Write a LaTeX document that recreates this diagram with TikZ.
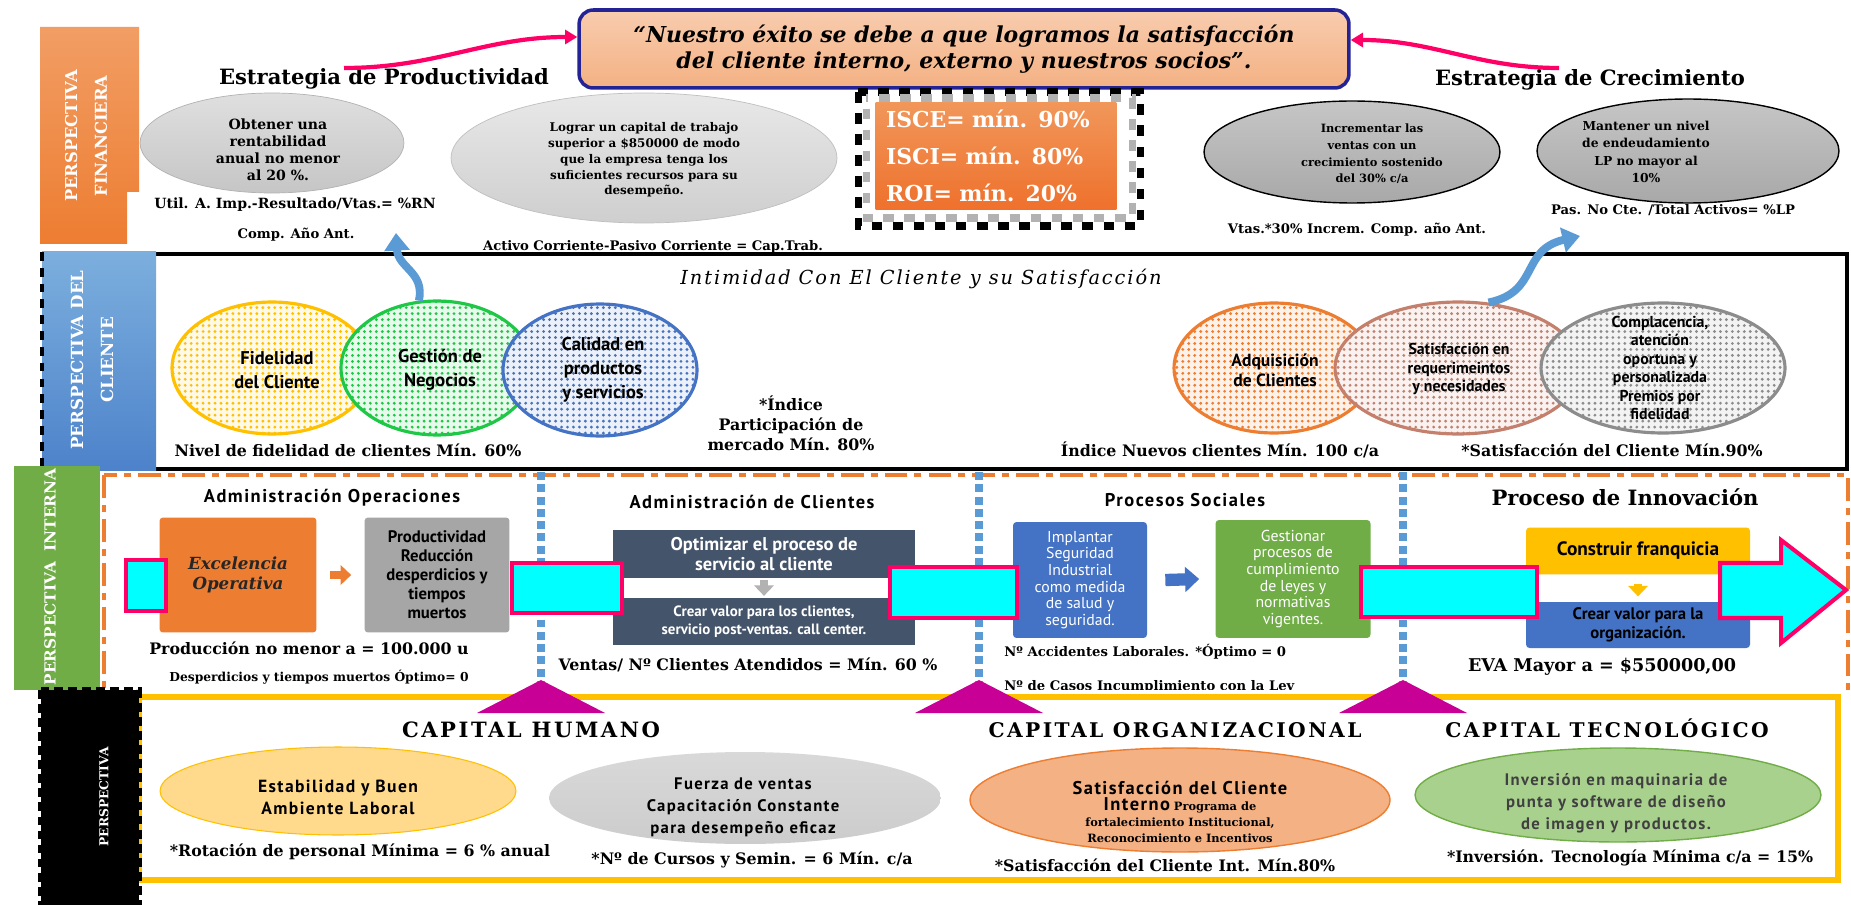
\documentclass[tikz,border=0pt]{standalone}
\usepackage{fontspec}
\setmainfont{DejaVu Serif}
\newfontfamily\sansf{PT Sans}
\newfontfamily\sanssp[LetterSpace=8]{PT Sans}
\newfontfamily\capf[LetterSpace=12]{DejaVu Serif}
\newfontfamily\scrf[LetterSpace=10]{DejaVu Serif}
\usetikzlibrary{shapes.geometric,arrows.meta,patterns.meta}

\definecolor{naranja}{RGB}{237,125,49}
\definecolor{salmon}{RGB}{244,177,131}
\definecolor{azulcl}{RGB}{91,155,213}
\definecolor{azul}{RGB}{68,114,196}
\definecolor{verde}{RGB}{112,173,71}
\definecolor{verdecl}{RGB}{169,209,142}
\definecolor{verdevivo}{RGB}{30,200,70}
\definecolor{oro}{RGB}{255,192,0}
\definecolor{crema}{RGB}{255,217,140}
\definecolor{pizarra}{RGB}{68,84,106}
\definecolor{rosa}{RGB}{255,0,102}
\definecolor{fucsia}{RGB}{200,0,150}
\definecolor{cian}{RGB}{0,255,255}
\definecolor{marino}{RGB}{35,35,150}
\definecolor{teja}{RGB}{196,128,108}
\definecolor{gris}{RGB}{140,140,140}

\begin{document}
\begin{tikzpicture}[x=0.02cm, y=-0.02cm,
	every node/.style={align=center, inner sep=0pt},
	nota/.style={font=\bfseries\fontsize{7.5}{9}\selectfont},
	notag/.style={font=\bfseries\fontsize{9}{11.5}\selectfont},
	etiq/.style={rotate=90, text=white, font=\bfseries\fontsize{9.5}{17}\selectfont},
	circ/.style={ellipse, draw=#1, line width=1.8pt, preaction={fill=#1!10}, pattern={Dots[radius=0.9pt,distance=3.4pt]}, pattern color=#1},
	ctxt/.style={font=\sansf\bfseries\fontsize{10.5}{13.5}\selectfont},
	ctxtp/.style={font=\sansf\bfseries\fontsize{9}{10.5}\selectfont},
	caja/.style={rectangle, fill=#1, rounded corners=2pt},
	titulo/.style={font=\sanssp\bfseries\fontsize{10.5}{12}\selectfont},
	capt/.style={font=\capf\bfseries\fontsize{11.5}{13}\selectfont},
	bel/.style={font=\sanssp\bfseries\fontsize{10}{12.5}\selectfont},
	cajacian/.style={fill=cian, draw=rosa, line width=2.3pt},
	flechaA/.style={rosa, line width=2.4pt, -{Triangle[width=8pt,length=7pt]}},
	flechaB/.style={azulcl, line width=4.5pt, -{Triangle[width=14pt,length=10pt]}},
	bloque/.style={#1, line width=5pt, -{Triangle[width=11pt,length=6pt]}}]

	\useasboundingbox (0,0) rectangle (1851,905);
	\fill[white] (0,0) rectangle (1851,905);

	% cliente
	\draw[line width=2.8pt] (150,254) rectangle (1847,469);

	% procesos internos
	\draw[naranja, line width=2.2pt, dash pattern=on 13pt off 4pt on 4pt off 4pt] (104,475) rectangle (1848,692);
	\foreach \tx in {541,979,1403}
		\draw[azulcl, line width=4.5pt, dash pattern=on 4.5pt off 2.5pt] (\tx,472) -- (\tx,684);

	\node[titulo] (t1) at (332,498) {Administración Operaciones};
	\node[titulo] (t2) at (752,502) {Administración de Clientes};
	\node[titulo] (t3) at (1185,500) {Procesos Sociales};
	\node[font=\bfseries\fontsize{12}{14}\selectfont] (t4) at (1625,497) {Proceso de Innovación};

	\node[caja=naranja, minimum width=3.14cm, minimum height=2.3cm, text=black!85, font=\bfseries\itshape\fontsize{9.5}{11}\selectfont] (exc) at (238,575) {Excelencia\\Operativa};
	\node[caja=gray!70, minimum width=2.9cm, minimum height=2.3cm, font=\sansf\bfseries\fontsize{9.5}{10.8}\selectfont] (prod) at (437,575) {Productividad\\Reducción\\desperdicios y\\tiempos\\muertos};
	\draw[bloque=naranja] ([xshift=0.26cm]exc.east) -- ([xshift=-0.26cm]prod.west);

	\node[fill=pizarra, minimum width=6.04cm, minimum height=0.96cm, text=white, font=\sansf\bfseries\fontsize{10.5}{11.5}\selectfont] (opt) at (764,554) {Optimizar el proceso de\\servicio al cliente};
	\node[fill=pizarra, minimum width=6.04cm, minimum height=0.94cm, text=white, font=\sansf\bfseries\fontsize{8.5}{10}\selectfont] (crear) at (764,621.5) {Crear valor para los clientes,\\servicio post-ventas. call center.};
	\fill[pizarra] (opt.south west) rectangle (crear.north east);
	\fill[white] (622,578) rectangle (888,598);
	\draw[bloque=gray!60, shorten <=1pt, shorten >=1pt] (opt.south) -- (crear.north);

	\node[caja=azul, minimum width=2.68cm, minimum height=2.32cm, text=white, font=\sansf\fontsize{9}{9.5}\selectfont] (seg) at (1080,580) {Implantar\\Seguridad\\Industrial\\como medida\\de salud y\\seguridad.};
	\node[caja=verde, minimum width=3.1cm, minimum height=2.36cm, text=white, font=\sansf\fontsize{9}{9.5}\selectfont] (ley) at (1293,579) {Gestionar\\procesos de\\cumplimiento\\de leyes y\\normativas\\vigentes.};
	\draw[bloque=azul, line width=7pt, -{Triangle[width=14pt,length=8pt]}] ([xshift=0.36cm]seg.east) -- ([xshift=-0.32cm]ley.west);

	\node[caja=oro, minimum width=4.48cm, minimum height=0.94cm, font=\sansf\bfseries\fontsize{11}{12}\selectfont] (fran) at (1638,551) {Construir franquicia};
	\node[caja=azul, minimum width=4.48cm, minimum height=0.92cm, font=\sansf\bfseries\fontsize{9.5}{11}\selectfont] (org) at (1638,625) {Crear valor para la\\organización.};
	\draw[bloque=oro, shorten <=5pt, shorten >=3pt] (fran.south) -- (org.north);

	\draw[cajacian] (126,560) rectangle (166,611);
	\draw[cajacian] (512,563) rectangle (622,613);
	\draw[cajacian] (890,567) rectangle (1017,618);
	\draw[cajacian] (1361,567) rectangle (1537,617);
	\draw[cajacian] (1720,563) -- (1781,563) -- (1781,540) -- (1846,590) -- (1781,643) -- (1781,618) -- (1720,618) -- cycle;

	\node[notag] (n1) at (309,648) {Producción no menor a = 100.000 u};
	\node[font=\bfseries\fontsize{7}{9}\selectfont] (n2) at (319,677) {Desperdicios y tiempos muertos Óptimo= 0};
	\node[notag] (n3) at (748,665) {Ventas/ Nº Clientes Atendidos = Mín. 60 \%};
	\node[nota, anchor=west] (n4) at (1004,652) {Nº Accidentes Laborales. *Óptimo = 0};
	\node[nota, anchor=west] (n5) at (1004,687) {Nº de Casos Incumplimiento con la Ley};
	\node[font=\bfseries\fontsize{10}{12}\selectfont] (n6) at (1602,667) {EVA Mayor a = \$550000,00};

	% aprendizaje
	\fill[white] (139,690) rectangle (1851,905);
	\draw[oro, line width=3pt] (139,697) rectangle (1838,880);
	\foreach \tx in {541,979,1403}
		\fill[fucsia] (\tx-64,713) -- (\tx,680) -- (\tx+64,713) -- cycle;

	\node[capt, font=\capf\bfseries\fontsize{12}{13}\selectfont] (ch) at (531,730) {CAPITAL HUMANO};
	\node[capt] (co) at (1175,730) {CAPITAL ORGANIZACIONAL};
	\node[capt] (ct) at (1607,728) {CAPITAL TECNOLÓGICO};

	\node[ellipse, minimum width=7.12cm, minimum height=1.76cm, fill=crema, draw=oro, line width=0.6pt] (estab) at (338,791) {};
	\node[bel] (estabt) at (338,797) {Estabilidad y Buen\\Ambiente Laboral};
	\node[ellipse, minimum width=7.84cm, minimum height=1.84cm, top color=gray!30, bottom color=gray!40] (fuerza) at (745,798) {};
	\node[bel, font=\sanssp\bfseries\fontsize{9.5}{12.5}\selectfont] (fuerzat) at (743,807) {Fuerza de ventas\\Capacitación Constante\\para desempeño eficaz};
	\node[ellipse, minimum width=8.4cm, minimum height=2.08cm, fill=salmon, draw=naranja, line width=0.8pt] (satint) at (1180,800) {};
	\node[font=\bfseries\fontsize{6.5}{9}\selectfont] (satintt) at (1180,812) {{\sanssp\fontsize{10.5}{12}\selectfont Satisfacción del Cliente}\\{\sanssp\fontsize{10.5}{12}\selectfont Interno} Programa de\\fortalecimiento Institucional,\\Reconocimiento e Incentivos};
	\node[ellipse, minimum width=8.12cm, minimum height=1.88cm, fill=verdecl, draw=verde, line width=0.8pt] (inver) at (1618,795) {};
	\node[bel, font=\sanssp\bfseries\fontsize{9.5}{12.5}\selectfont, text=black!75] (invert) at (1616,803) {Inversión en maquinaria de\\punta y software de diseño\\de imagen y productos.};

	\node[notag] (b1) at (360,852) {*Rotación de personal Mínima = 6 \% anual};
	\node[notag] (b2) at (752,860) {*Nº de Cursos y Semin. = 6 Mín. c/a};
	\node[notag] (b3) at (1165,865) {*Satisfacción del Cliente Int. Mín.80\%};
	\node[font=\bfseries\fontsize{9}{11}\selectfont] (b4) at (1630,858) {*Inversión. Tecnología Mínima c/a = 15\%};

	% cliente: circulos
	\node[font=\scrf\itshape\fontsize{11}{13}\selectfont] (intim) at (921,279) {Intimidad Con El Cliente y su Satisfacción};
	\node[circ=oro, minimum width=4cm, minimum height=2.64cm] (fid) at (272,368) {};
	\node[circ=verdevivo, minimum width=3.84cm, minimum height=2.68cm] (ges) at (437,368) {};
	\node[circ=azul, minimum width=3.88cm, minimum height=2.64cm] (cal) at (600,370) {};
	\node[ctxt] (fidt) at (277,370) {Fidelidad\\del Cliente};
	\node[ctxt] (gest) at (440,370) {Gestión de\\Negocios};
	\node[ctxt] (calt) at (603,370) {Calidad en\\productos\\y servicios};

	\node[circ=naranja, minimum width=4cm, minimum height=2.6cm] (adq) at (1274,368) {};
	\node[circ=teja, minimum width=4.92cm, minimum height=2.64cm] (sat) at (1458,368) {};
	\node[circ=gris, minimum width=4.88cm, minimum height=2.6cm] (comp) at (1663,368) {};
	\node[ctxtp, font=\sansf\bfseries\fontsize{10}{11.5}\selectfont] (adqt) at (1275,370) {Adquisición\\de Clientes};
	\node[ctxtp] (satt) at (1459,369) {Satisfacción en\\requerimeintos\\y necesidades};
	\node[ctxtp] (compt) at (1660,368) {Complacencia,\\atención\\oportuna y\\personalizada\\Premios por\\fidelidad};

	\node[notag] (c1) at (348,450) {Nivel de fidelidad de clientes Mín. 60\%};
	\node[notag] (c2) at (791,423) {*Índice\\Participación de\\mercado Mín. 80\%};
	\node[notag] (c3) at (1220,450) {Índice Nuevos clientes Mín. 100 c/a};
	\node[notag] (c4) at (1612,450) {*Satisfacción del Cliente Mín.90\%};

	% financiera
	\node[rounded corners=8pt, minimum width=15.4cm, minimum height=1.56cm, top color=salmon!65, bottom color=salmon, draw=marino, line width=2pt, font=\bfseries\itshape\fontsize{12.5}{14.7}\selectfont] (quote) at (964,49) {“Nuestro éxito se debe a que logramos la satisfacción\\del cliente interno, externo y nuestros socios”.};

	\node[font=\bfseries\fontsize{12}{14}\selectfont] (eprod) at (384,79) {Estrategia de Productividad};
	\node[font=\bfseries\fontsize{12}{14}\selectfont] (ecrec) at (1590,80) {Estrategia de Crecimiento};
	\coordinate (pA) at (344,68);
	\coordinate (pB) at (1559,68);
	\draw[flechaA] (pA) to[out=0, in=180] ([yshift=0.24cm]quote.west);
	\draw[flechaA] (pB) to[out=180, in=0] ([yshift=0.18cm]quote.east);

	\node[ellipse, minimum width=5.28cm, minimum height=2cm, top color=gray!25, bottom color=gray!45, draw=gray!60] (elA) at (272,143) {};
	\node[font=\bfseries\fontsize{8}{9.6}\selectfont] (elAt) at (278,150) {Obtener una\\rentabilidad\\anual no menor\\al 20 \%.};
	\node[ellipse, minimum width=7.72cm, minimum height=2.6cm, top color=gray!18, bottom color=gray!38, draw=gray!50] (elB) at (644,158) {};
	\node[font=\bfseries\fontsize{6.8}{9}\selectfont] (elBt) at (644,160) {Lograr un capital de trabajo\\superior a \$850000 de modo\\que la empresa tenga los\\suficientes recursos para su\\desempeño.};
	\node[ellipse, minimum width=5.92cm, minimum height=2.04cm, top color=gray!45, bottom color=gray!68, draw=black, line width=0.8pt] (elC) at (1352,152) {};
	\node[font=\bfseries\fontsize{6.5}{9.5}\selectfont] (elCt) at (1372,154) {Incrementar las\\ventas con un\\crecimiento sostenido\\del 30\% c/a};
	\node[ellipse, minimum width=6.04cm, minimum height=2.08cm, top color=gray!45, bottom color=gray!68, draw=black, line width=0.8pt] (elD) at (1688,151) {};
	\node[font=\bfseries\fontsize{7}{10}\selectfont] (elDt) at (1646,152) {Mantener un nivel\\de endeudamiento\\LP no mayor al\\10\%};

	\node[nota, font=\bfseries\fontsize{8}{9}\selectfont] (f1) at (295,205) {Util. A. Imp.-Resultado/Vtas.= \%RN};
	\node[nota] (f2) at (296,235) {Comp. Año Ant.};
	\node[nota] (f3) at (653,247) {Activo Corriente-Pasivo Corriente = Cap.Trab.};
	\node[nota] (f4) at (1357,230) {Vtas.*30\% Increm. Comp. año Ant.};
	\node[nota] (f5) at (1673,210) {Pas. No Cte. /Total Activos= \%LP};

	\draw[black, line width=4pt, dash pattern=on 6pt off 6pt] (858,92) rectangle (1140,226);
	\draw[gray!60, line width=4pt, dash pattern=on 6pt off 6pt, dash phase=6pt] (866,98) rectangle (1132,218);
	\node[minimum width=4.82cm, minimum height=2.16cm, top color=naranja!80, bottom color=naranja!90!red, text=white, font=\bfseries\fontsize{12.5}{21}\selectfont, text width=4.4cm, align=left] (kpi) at (996,156) {ISCE= mín. 90\%\\ISCI= mín. 80\%\\ROI= mín. 20\%};

	\coordinate (arrA) at (396,233);
	\coordinate (arrB) at (1580,236);
	\draw[flechaB] (ges.105) .. controls (425,272) and (398,268) .. (arrA);
	\draw[flechaB] (sat.65) .. controls (1540,292) and (1520,250) .. (arrB);

	% etiquetas
	\shade[top color=naranja!75, bottom color=naranja] (40,27) -- (139,27) -- (139,192) -- (127,192) -- (127,244) -- (40,244) -- cycle;
	\node[etiq, font=\bfseries\fontsize{9.3}{17}\selectfont] (lfin) at (86,136) {PERSPECTIVA\\FINANCIERA};
	\shade[top color=azulcl!80, bottom color=azul!60!azulcl] (42,252) rectangle (156,470);
	\draw[line width=2.5pt, dash pattern=on 5pt off 4pt] (42,252) -- (42,470);
	\node[etiq] (lcli) at (92,360) {PERSPECTIVA DEL\\CLIENTE};
	\fill[verde] (14,466) rectangle (100,690);
	\node[etiq, font=\bfseries\fontsize{8.7}{10}\selectfont] (lint) at (50,577) {PERSPECTIVA\ \ INTERNA};
	\fill[black] (41,690) rectangle (139,905);
	\draw[line width=3pt, dash pattern=on 5pt off 3pt] (41,690) rectangle (139,905);
	\node[etiq, font=\bfseries\fontsize{7}{9}\selectfont] (lapr) at (104,797) {PERSPECTIVA};

\end{tikzpicture}
\end{document}
